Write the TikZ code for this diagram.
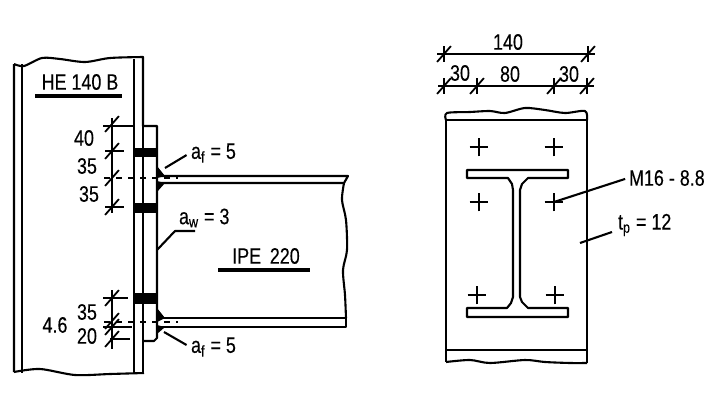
\documentclass[tikz,border=0pt]{standalone}
\usepackage{fontspec}
\setmainfont[FakeStretch=0.8,FakeBold=0.25]{Liberation Sans}
\usetikzlibrary{positioning,shapes.misc}

\begin{document}
\begin{tikzpicture}[x=0.5pt,y=-0.5pt,line width=1.05pt,line join=round,
        lbl/.style={inner sep=0pt,font=\fontsize{11.2}{12}\selectfont},
        bolt/.style={cross out,draw,rotate=45,minimum size=5.8pt,inner sep=0pt,line width=0.9pt},
        slash/.style={strike out,draw,minimum width=6pt,minimum height=7pt,inner sep=0pt,line width=0.9pt},
        heavy/.style={line width=1.9pt},
        thinline/.style={line width=0.85pt},
        block/.style={fill=black,draw=none}]
      \useasboundingbox (0,0) rectangle (724,408);
      %% column HE 140 B
      \draw (14,372) -- (14,64) plot[smooth] coordinates {(14,64) (24,66) (42,58) (60,59) (85,62) (110,58) (143,57)} -- (143,126);
      \draw (22,64) -- (22,373);
      \draw (134,59) -- (134,373);
      \draw (143,126) -- (143,373);
      \draw plot[smooth] coordinates {(14,372) (40,369) (75,375) (110,374) (144,373)};
      %% end plate
      \draw (143,126) -- (157,126) -- (157,338) -- (154,341) -- (143,341);
      \fill[block] (134,148) rectangle (157,157);
      \fill[block] (134,203) rectangle (157,213);
      \fill[block] (134,293) rectangle (157,304);
      %% beam IPE 220
      \draw (157,176) -- (348,176) -- (344,183) -- (157,183);
      \draw (157,318) -- (346,318) -- (346,327) -- (157,327);
      \draw plot[smooth] coordinates {(344,183) (342,200) (346,220) (347,250) (343,270) (345,295) (346,318)};
      %% welds
      \fill[block] (157,166) -- (165,176) -- (157,178) -- cycle;
      \fill[block] (157,181) -- (165,183) -- (157,192) -- cycle;
      \fill[block] (157,308) -- (165,318) -- (157,322) -- cycle;
      \fill[block] (157,325) -- (165,327) -- (157,334) -- cycle;
      \draw[dashed,thinline] (104,178) -- (178,178);
      \draw[dashed,thinline] (104,322) -- (178,322);
      %% dimensions of the column
      \node[slash] (d_1) at (112,124) {};
      \node[slash] (d_2) at (112,151) {};
      \node[slash] (d_3) at (112,178) {};
      \node[slash] (d_4) at (112,207) {};
      \node[slash] (d_5) at (112,298) {};
      \node[slash] (d_6) at (112,321) {};
      \node[slash] (d_7) at (112,327) {};
      \node[slash] (d_8) at (112,339) {};
      \coordinate (top_1) at (112,118);
      \coordinate (bot_1) at (112,213);
      \coordinate (top_2) at (112,290);
      \coordinate (bot_2) at (112,349);
      \draw[thinline] (top_1) -- (bot_1) (top_2) -- (bot_2);
      \draw[thinline] (d_1.center) ++(-9,2) -- (134,126);
      \foreach \n in {2,4} \draw[thinline] (d_\n.center) ++(-7,0) -- ++(19,0);
      \draw[thinline] (d_5.center) ++(-9,0) -- ++(25,0);
      \draw[thinline] (d_7.center) ++(-9,0) -- ++(29,0);
      \draw[thinline] (d_8.center) ++(-2,0) -- ++(20,0);
      \node[lbl] (v_40) at (84,138) {40};
      \node[lbl] (v_35a) at (87,166) {35};
      \node[lbl] (v_35b) at (89,194) {35};
      \node[lbl] (v_35c) at (87,312) {35};
      \node[lbl] (v_20) at (87,336) {20};
      \node[lbl] (v_46) at (55,325) {4.6};
      \node[lbl] (he) at (80,82) {HE 140 B};
      \draw[heavy] (35,96) -- (122,96);
      %% weld labels
      \node[lbl,anchor=west] (af_1) at (190,153) {a\textsubscript{f} = 5};
      \node[lbl,anchor=west] (af_2) at (190,347) {a\textsubscript{f} = 5};
      \node[lbl,anchor=west] (aw) at (178,218) {a\textsubscript{w} = 3};
      \coordinate (w_1) at (165,168);
      \coordinate (w_2) at (164,332);
      \coordinate (w_3) at (157,250);
      \coordinate (w_4) at (175,231);
      \coordinate (w_5) at (195,231);
      \draw[shorten >=2pt] (w_1) -- (af_1.west);
      \draw[shorten >=2pt] (w_2) -- (af_2.west);
      \draw (w_3) -- (w_4) -- (w_5);
      \node[lbl] (ipe) at (266,256) {IPE\, 220};
      \draw[heavy] (218,270) -- (310,270);
      %% plate, front view
      \draw (446,350) -- (446,120) -- (587,120) -- (587,363);
      \draw (446,350) -- (587,350);
      \draw (446,350) -- (446,362);
      \draw plot[smooth] coordinates {(446,120) (447,113) (470,112) (490,111) (505,113) (525,108) (545,110) (565,113) (585,111) (587,120)};
      \draw plot[smooth] coordinates {(446,362) (470,360) (490,363) (525,360) (545,362) (570,363) (587,363)};
      %% section in the middle
      \draw (508,178) -- (467,178) -- (467,170) -- (568,170) -- (568,178) -- (528,178)
        -- (522,184) -- (520,190) -- (520,297) -- (522,302) -- (528,308) -- (568,308) -- (568,317)
        -- (467,317) -- (467,308) -- (507,308) -- (511,303) -- (513,297) -- (513,190) -- (512,184) -- cycle;
      \node[bolt] (b_1) at (479,147) {};
      \node[bolt] (b_2) at (554,147) {};
      \node[bolt] (b_3) at (479,202) {};
      \node[bolt] (b_4) at (554,202) {};
      \node[bolt] (b_5) at (477,295) {};
      \node[bolt] (b_6) at (555,295) {};
      \node[lbl,anchor=west] (bolt_lbl) at (628,178) {M16 - 8.8};
      \node[lbl,anchor=west] (tp) at (617,225) {t\textsubscript{p} = 12};
      \coordinate (p_1) at (580,243);
      \coordinate (p_2) at (612,232);
      \draw[shorten >=1.5pt] (b_4.center) -- (bolt_lbl.west);
      \draw (p_1) -- (p_2);
      %% dimensions of the plate
      \node[slash] (h_1) at (444,54) {};
      \node[slash] (h_2) at (588,54) {};
      \node[slash] (h_3) at (444,86) {};
      \node[slash] (h_4) at (477,86) {};
      \node[slash] (h_5) at (554,86) {};
      \node[slash] (h_6) at (587,86) {};
      \draw[thinline] (h_1.center) ++(-7,0) -- ++(158,0);
      \draw[thinline] (h_3.center) ++(-6,0) -- ++(156,0);
      \foreach \n in {1,2,3,4,5,6} \draw[thinline] (h_\n.center) ++(0,-8) -- ++(0,16);
      \node[lbl] (w_140) at (508,42) {140};
      \node[lbl] (w_30a) at (460,73) {30};
      \node[lbl] (w_80) at (510,74) {80};
      \node[lbl] (w_30b) at (569,74) {30};
    \end{tikzpicture}
\end{document}
